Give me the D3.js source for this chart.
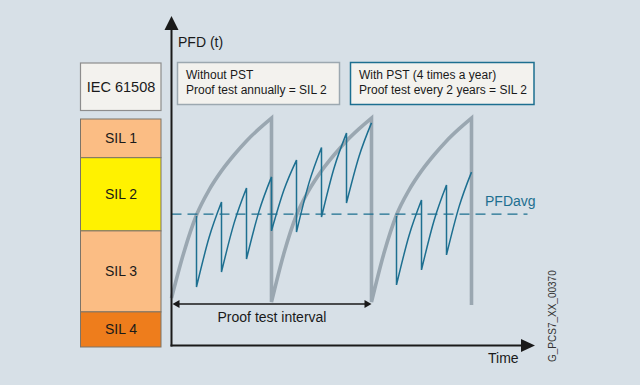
<!DOCTYPE html>
<html>
<head>
<meta charset="utf-8">
<script src="https://cdn.jsdelivr.net/npm/d3@7"></script>
<style>
  html, body { margin: 0; padding: 0; background: #d7e0e7; }
  svg { display: block; font-family: "Liberation Sans", Arial, sans-serif; }
</style>
</head>
<body>
<svg id="chart" width="640" height="385"></svg>
<script>
// ---------- data (time in years, PFD in arbitrary units) ----------
const silLabels = ["SIL 1", "SIL 2", "SIL 3", "SIL 4"];
const silTops    = [75.5, 62.6, 38.2, 11.2];
const silBottoms = [62.6, 38.2, 11.2, -0.5];
const silColors  = ["#fbbd84", "#fff200", "#fbbd84", "#ee7d1c"];

// Without PST: proof test annually (grey sawtooth)
const grayCycle1 = [[0,15.8],[0.125,31.2],[0.25,43.5],[0.375,51.8],[0.5,58.2],[0.625,63.5],[0.75,68.2],[0.875,72.2],[1,75.8]];
const grayCycle2 = [[1,14.5],[1.125,30.8],[1.25,43.5],[1.375,51.8],[1.5,58.2],[1.625,63.5],[1.75,68.2],[1.875,72.2],[2,75.8]];
const grayCycle3 = [[2,14.5],[2.125,30.8],[2.25,43.5],[2.375,51.8],[2.5,58.2],[2.625,63.5],[2.75,68.2],[2.875,72.2],[3,75.8]];
const grayEnd = [3, 13.5];

// With PST (4 times a year), proof test every 2 years (blue sawtooth)
const blueStartA = [0.25, 43.2];
const blueRisesA = [
  [[0.25,19.5],[0.375,35.9],[0.5,47.8]],
  [[0.5,24.5],[0.625,40.7],[0.75,52.5]],
  [[0.75,28.8],[0.875,44.7],[1,56.2]],
  [[1,38.2],[1.125,51.9],[1.25,61.8]],
  [[1.25,37.8],[1.375,54.2],[1.5,66]],
  [[1.5,42.8],[1.625,59.1],[1.75,70.8]],
  [[1.75,47.5],[1.875,63],[2,74.2]]
];
const blueStartB = [2.25, 43.2];
const blueRisesB = [
  [[2.25,20.2],[2.375,36.6],[2.5,48.5]],
  [[2.5,25.2],[2.625,41.6],[2.75,53.5]],
  [[2.75,30.2],[2.875,46.2],[3,57.8]]
];

const pfdAvg = 43.8;
const pfdAvgEnd = 3.56;
const proofInterval = [0, 2];
const proofArrowLevel = 13.8;

const legendWithout = ["Without PST", "Proof test annually = SIL 2"];
const legendWith = ["With PST (4 times a year)", "Proof test every 2 years = SIL 2"];

// ---------- drawing ----------
const svg = d3.select("#chart");
const x = d3.scaleLinear().domain([0, 3.635]).range([171.5, 535]);
const y = d3.scaleLinear().domain([0, 110]).range([345.5, 15.5]);
const ink = "#1a1a1a";
const teal = "#1d6f90";

svg.append("rect").attr("width", 640).attr("height", 385).attr("fill", "#d7e0e7");

// SIL column
const silG = svg.append("g");
silLabels.forEach((lab, i) => {
  const y0 = y(silTops[i]), y1 = y(silBottoms[i]);
  silG.append("rect").attr("x", 80.5).attr("y", y0).attr("width", 80.5).attr("height", y1 - y0)
    .attr("fill", silColors[i]).attr("stroke", "#7d7468").attr("stroke-width", 1);
  silG.append("text").attr("x", 121).attr("y", (y0 + y1) / 2 + 5).attr("text-anchor", "middle")
    .attr("font-size", 14).attr("fill", ink).text(lab);
});

// IEC box
svg.append("rect").attr("x", 80.5).attr("y", 63).attr("width", 80.5).attr("height", 47.5)
  .attr("fill", "#f3f2ee").attr("stroke", "#8d8d8d").attr("stroke-width", 1.2);
svg.append("text").attr("x", 121).attr("y", 92).attr("text-anchor", "middle")
  .attr("font-size", 14.5).attr("fill", ink).text("IEC 61508");

// legend boxes
function legendBox(x0, w, lines, stroke) {
  svg.append("rect").attr("x", x0).attr("y", 62.5).attr("width", w).attr("height", 42)
    .attr("fill", "#f3f2ee").attr("stroke", stroke).attr("stroke-width", 1.5);
  lines.forEach((t, i) => {
    svg.append("text").attr("x", x0 + 8.5).attr("y", 79 + i * 15)
      .attr("font-size", 12).attr("fill", ink).text(t);
  });
}
legendBox(177.5, 162, legendWithout, "#9ca8b0");
legendBox(350.5, 183.5, legendWith, teal);

// curves
const seg = d3.line().x(d => x(d[0])).y(d => y(d[1])).curve(d3.curveMonotoneX);

let grayPath = [grayCycle1, grayCycle2, grayCycle3]
  .map((c, i) => i ? seg(c).replace(/^M/, "L") : seg(c)).join("")
  + "L" + x(grayEnd[0]) + "," + y(grayEnd[1]);
svg.append("path").attr("d", grayPath).attr("fill", "none")
  .attr("stroke", "#9aa7b1").attr("stroke-width", 3.6).attr("stroke-linejoin", "miter");

// PFDavg dashed line
svg.append("line").attr("x1", x(0)).attr("x2", x(pfdAvgEnd)).attr("y1", y(pfdAvg)).attr("y2", y(pfdAvg))
  .attr("stroke", teal).attr("stroke-width", 1.4).attr("stroke-dasharray", "10,6");

function bluePath(start, rises) {
  return "M" + x(start[0]) + "," + y(start[1]) + rises.map(r => seg(r).replace(/^M/, "L")).join("");
}
[[blueStartA, blueRisesA], [blueStartB, blueRisesB]].forEach(([s, r]) => {
  svg.append("path").attr("d", bluePath(s, r)).attr("fill", "none")
    .attr("stroke", teal).attr("stroke-width", 1.5).attr("stroke-linejoin", "miter");
});

// axes
const x0 = x(0), yBase = y(0);
svg.append("line").attr("x1", x0).attr("x2", x0).attr("y1", yBase + 1).attr("y2", 28)
  .attr("stroke", ink).attr("stroke-width", 2);
svg.append("path").attr("d", `M${x0},16 L${x0 + 7},30 L${x0 - 7},30 Z`).attr("fill", ink);
svg.append("line").attr("x1", x0 - 1).attr("x2", 523).attr("y1", yBase).attr("y2", yBase)
  .attr("stroke", ink).attr("stroke-width", 2);
svg.append("path").attr("d", `M535,${yBase} L521,${yBase - 6.5} L521,${yBase + 6.5} Z`).attr("fill", ink);

// proof test interval arrow
const pa = y(proofArrowLevel), pL = x(proofInterval[0]) + 1, pR = x(proofInterval[1]);
svg.append("line").attr("x1", pL + 4).attr("x2", pR - 4).attr("y1", pa).attr("y2", pa)
  .attr("stroke", ink).attr("stroke-width", 1.5);
svg.append("path").attr("d", `M${pL},${pa} L${pL + 7},${pa - 4} L${pL + 7},${pa + 4} Z`).attr("fill", ink);
svg.append("path").attr("d", `M${pR},${pa} L${pR - 7},${pa - 4} L${pR - 7},${pa + 4} Z`).attr("fill", ink);

// texts
svg.append("text").attr("x", 178).attr("y", 47).attr("font-size", 14).attr("fill", ink).text("PFD (t)");
svg.append("text").attr("x", 272).attr("y", 322).attr("text-anchor", "middle")
  .attr("font-size", 14).attr("fill", ink).text("Proof test interval");
svg.append("text").attr("x", 485).attr("y", 206).attr("font-size", 14).attr("fill", teal).text("PFDavg");
svg.append("text").attr("x", 488).attr("y", 363).attr("font-size", 14).attr("fill", ink).text("Time");
svg.append("text").attr("transform", "translate(556,362) rotate(-90)")
  .attr("font-size", 10).attr("fill", "#333").text("G_PCS7_XX_00370");
</script>
</body>
</html>
